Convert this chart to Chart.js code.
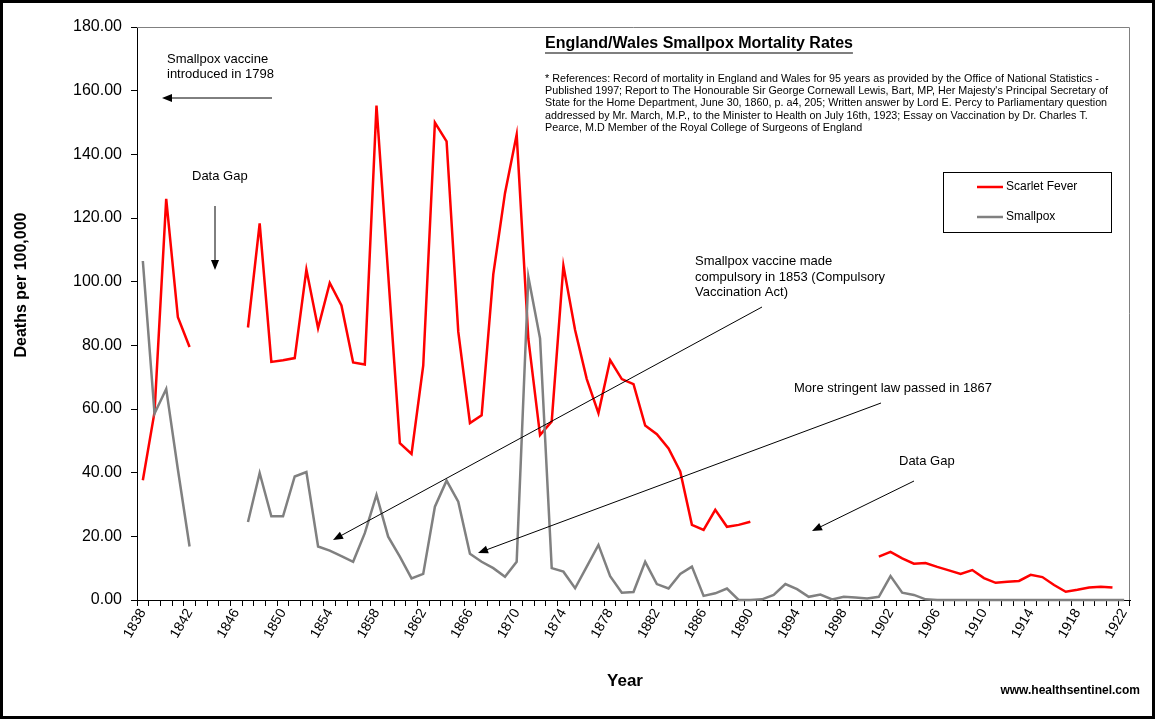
<!DOCTYPE html>
<html>
<head>
<meta charset="utf-8">
<script src="https://cdn.jsdelivr.net/npm/chart.js@4.4.1/dist/chart.umd.min.js"></script>
<style>
  html, body { margin: 0; padding: 0; background: #fff; }
  canvas { display: block; }
</style>
</head>
<body>
<canvas id="chart" width="1155" height="719"></canvas>
<script>
// years 1838 .. 1922, one category per year
const years = Array.from({ length: 85 }, (_, i) => String(1838 + i))

// deaths per 100,000 (null = data gap)
const scarletFever = [
  37.6, 59, 126, 88.8, 79.5, null, null, null, null, 85.6,      // 1838-1847
  118.3, 74.8, 75.3, 76, 103.8, 85.4, 99.6, 92.5, 74.6, 74,     // 1848-1857
  155.3, 102.4, 49.3, 45.9, 73.6, 150, 144.1, 84.3, 55.6, 58,   // 1858-1867
  102.4, 127.8, 146.2, 82, 51.8, 56.1, 105, 84.8, 69.4, 58.7,   // 1868-1877
  75.4, 69.4, 67.8, 54.8, 52.1, 47.6, 40.4, 23.6, 22, 28.3,     // 1878-1887
  23, 23.6, 24.6, null, null, null, null, null, null, null,     // 1888-1897
  null, null, null, 13.6, 15.1, 13.1, 11.4, 11.6, 10.4, 9.3,    // 1898-1907
  8.2, 9.4, 6.9, 5.4, 5.7, 6.0, 7.9, 7.2, 4.7, 2.6,             // 1908-1917
  3.2, 3.9, 4.2, 3.9, null                                      // 1918-1922
]

const smallpox = [
  106.5, 58.6, 66.3, 41, 16.8, null, null, null, null, 24.5,    // 1838-1847
  39.9, 26.3, 26.3, 38.8, 40.2, 16.8, 15.5, 13.8, 12, 21,       // 1848-1857
  33, 19.9, 13.6, 6.8, 8.2, 29.3, 37.5, 30.9, 14.5, 12,         // 1858-1867
  10, 7.3, 12, 101.5, 82.2, 10, 8.9, 3.7, 10.5, 17.3,           // 1868-1877
  7.5, 2.3, 2.5, 12, 5, 3.6, 8.2, 10.5, 1.3, 2.1,               // 1878-1887
  3.6, 0, 0, 0.2, 1.6, 5, 3.4, 1, 1.7, 0.2,                     // 1888-1897
  1, 0.8, 0.5, 1, 7.5, 2.3, 1.6, 0.2, 0, 0,                     // 1898-1907
  0, 0, 0, 0, 0, 0, 0, 0, 0, 0,                                 // 1908-1917
  0, 0, 0, 0, 0                                                 // 1918-1922
]

const yMin = 0
const yMax = 180
const yStep = 20
const labelEvery = 4

const FONT = "'Liberation Sans', Arial, sans-serif"
const NARROW = "'Liberation Sans Narrow', 'Arial Narrow', 'Liberation Sans', sans-serif"

const references = [
  "* References: Record of mortality in England and Wales for 95 years as provided by the Office of National Statistics -",
  "Published 1997; Report to The Honourable Sir George Cornewall Lewis, Bart, MP, Her Majesty's Principal Secretary of",
  "State for the Home Department, June 30, 1860, p. a4, 205; Written answer by Lord E. Percy to Parliamentary question",
  "addressed by Mr. March, M.P., to the Minister to Health on July 16th, 1923; Essay on Vaccination by Dr. Charles T.",
  "Pearce, M.D Member of the Royal College of Surgeons of England"
]

function text(ctx, str, x, y, font, align) {
  ctx.font = font
  ctx.textAlign = align || "left"
  ctx.textBaseline = "middle"
  ctx.fillText(str, x, y)
}

function arrow(ctx, x1, y1, x2, y2) {
  const a = Math.atan2(y2 - y1, x2 - x1)
  const len = 10, half = 4
  ctx.beginPath()
  ctx.moveTo(x1, y1)
  ctx.lineTo(x2 - Math.cos(a) * len * 0.8, y2 - Math.sin(a) * len * 0.8)
  ctx.stroke()
  ctx.beginPath()
  ctx.moveTo(x2, y2)
  ctx.lineTo(x2 - Math.cos(a) * len - Math.sin(a) * half, y2 - Math.sin(a) * len + Math.cos(a) * half)
  ctx.lineTo(x2 - Math.cos(a) * len + Math.sin(a) * half, y2 - Math.sin(a) * len - Math.cos(a) * half)
  ctx.closePath()
  ctx.fill()
}

const decorations = {
  id: "decorations",
  afterDraw(chart) {
    const { ctx, chartArea } = chart
    ctx.save()

    // plot frame (top / right)
    ctx.strokeStyle = "#808080"
    ctx.lineWidth = 1
    ctx.beginPath()
    ctx.moveTo(chartArea.left, chartArea.top + 0.5)
    ctx.lineTo(chartArea.right - 0.5, chartArea.top + 0.5)
    ctx.lineTo(chartArea.right - 0.5, chartArea.bottom)
    ctx.stroke()

    ctx.fillStyle = "#000"
    ctx.strokeStyle = "#000"

    // title, underlined
    text(ctx, "England/Wales Smallpox Mortality Rates", 545, 44, "bold 16px " + FONT)
    const tw = ctx.measureText("England/Wales Smallpox Mortality Rates").width
    ctx.lineWidth = 1.2
    ctx.beginPath()
    ctx.moveTo(545, 53)
    ctx.lineTo(545 + tw, 53)
    ctx.stroke()

    references.forEach((line, i) => text(ctx, line, 545, 79 + i * 12.2, "10.75px " + FONT))

    // annotations
    const small = "13px " + FONT
    text(ctx, "Smallpox vaccine", 167, 59, small)
    text(ctx, "introduced in 1798", 167, 74, small)
    text(ctx, "Data Gap", 192, 176, small)
    text(ctx, "Smallpox vaccine made", 695, 261, small)
    text(ctx, "compulsory in 1853 (Compulsory", 695, 277, small)
    text(ctx, "Vaccination Act)", 695, 292, small)
    text(ctx, "More stringent law passed in 1867", 794, 388, small)
    text(ctx, "Data Gap", 899, 461, small)

    ctx.lineWidth = 1
    arrow(ctx, 272, 98, 162, 98)
    arrow(ctx, 215, 206, 215, 270)
    arrow(ctx, 762, 307, 333, 540)
    arrow(ctx, 881, 403, 478, 553)
    arrow(ctx, 914, 481, 812, 531)

    // legend
    ctx.fillStyle = "#fff"
    ctx.fillRect(943.5, 172.5, 168, 60)
    ctx.strokeStyle = "#000"
    ctx.strokeRect(943.5, 172.5, 168, 60)
    chart.data.datasets.forEach((ds, i) => {
      const y = 187 + i * 30
      ctx.strokeStyle = ds.borderColor
      ctx.lineWidth = 2.5
      ctx.beginPath()
      ctx.moveTo(977, y)
      ctx.lineTo(1003, y)
      ctx.stroke()
      ctx.fillStyle = "#000"
      text(ctx, ds.label, 1006, y, "12px " + FONT)
    })

    // axis titles
    ctx.fillStyle = "#000"
    ctx.save()
    ctx.translate(22, 285)
    ctx.rotate(-Math.PI / 2)
    text(ctx, "Deaths per 100,000", 0, 0, "bold 16px " + NARROW, "center")
    ctx.restore()
    text(ctx, "Year", 625, 681, "bold 17px " + NARROW, "center")
    text(ctx, "www.healthsentinel.com", 1140, 691, "bold 12px " + NARROW, "right")

    // outer border
    ctx.strokeStyle = "#000"
    ctx.lineWidth = 3
    ctx.strokeRect(1.5, 1.5, chart.width - 3, chart.height - 3)

    ctx.restore()
  }
}

const ctx = document.getElementById("chart").getContext("2d")
new Chart(ctx, {
  type: "line",
  data: {
    labels: years,
    datasets: [
      {
        label: "Scarlet Fever",
        data: scarletFever,
        borderColor: "#ff0000",
        backgroundColor: "transparent",
        borderWidth: 2.5,
        pointRadius: 0,
        tension: 0,
        spanGaps: false,
        clip: 5,
        order: 2
      },
      {
        label: "Smallpox",
        data: smallpox,
        borderColor: "#808080",
        backgroundColor: "transparent",
        borderWidth: 2.5,
        pointRadius: 0,
        tension: 0,
        spanGaps: false,
        clip: 5,
        order: 1
      }
    ]
  },
  options: {
    responsive: false,
    animation: false,
    devicePixelRatio: 1,
    layout: { padding: { left: 0, top: 27, right: 25, bottom: 0 } },
    plugins: {
      legend: { display: false },
      tooltip: { enabled: false }
    },
    scales: {
      x: {
        offset: true,
        afterFit: (scale) => { scale.height = 119 },
        grid: {
          offset: true,
          drawOnChartArea: false,
          tickLength: 6,
          color: "#000"
        },
        border: { display: true, color: "#000", width: 1 },
        ticks: {
          autoSkip: false,
          maxRotation: 60,
          minRotation: 60,
          padding: 0,
          color: "#000",
          font: { family: FONT, size: 14 },
          callback: (value, index) => (index % labelEvery === 0 ? years[index] : "")
        }
      },
      y: {
        min: yMin,
        max: yMax,
        afterFit: (scale) => { scale.width = 137 },
        grid: {
          drawOnChartArea: false,
          tickLength: 6,
          color: "#000"
        },
        border: { display: true, color: "#000", width: 1 },
        ticks: {
          stepSize: yStep,
          padding: 9,
          color: "#000",
          font: { family: FONT, size: 16 },
          callback: (value) => Number(value).toFixed(2)
        }
      }
    }
  },
  plugins: [decorations]
})
</script>
</body>
</html>
